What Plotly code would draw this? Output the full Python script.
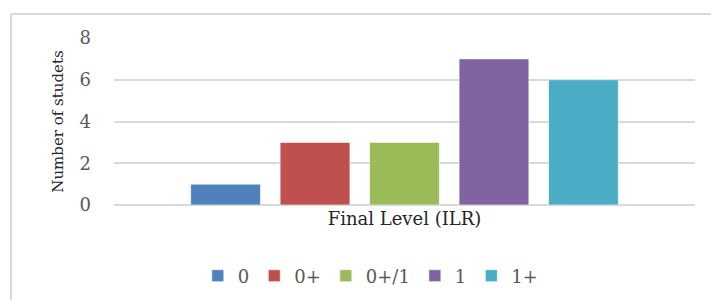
import plotly.graph_objects as go

category = ["Final Level (ILR)"]
levels = ["0", "0+", "0+/1", "1", "1+"]
students = [1, 3, 3, 7, 6]
colors = ["#4F81BD", "#C0504D", "#9BBB59", "#8064A2", "#4BACC6"]
y_ticks = [0, 2, 4, 6, 8]

fig = go.Figure()
for name, val, col in zip(levels, students, colors):
    fig.add_trace(go.Bar(
        x=category, y=[val], name=name,
        marker=dict(color=col, line=dict(color="rgba(255,255,255,0.6)", width=1)),
    ))

FONT = "DejaVu Serif"
fig.update_layout(
    width=711, height=300,
    margin=dict(l=114, r=16, t=38, b=95, autoexpand=False),
    paper_bgcolor="white", plot_bgcolor="white",
    barmode="group", bargap=0.23, bargroupgap=0.22,
    font=dict(family=FONT, color="#595959"),
    showlegend=True,
    legend=dict(orientation="h", x=0.442, xanchor="center", y=-0.425, yanchor="middle",
                font=dict(family=FONT, size=18, color="#595959"),
                itemwidth=30, tracegroupgap=0),
    xaxis=dict(showticklabels=False, showgrid=False, zeroline=False, showline=False,
               ticks="", automargin=False,
               title=dict(text="Final Level (ILR)", standoff=7,
                          font=dict(family=FONT, size=18, color="#262626"))),
    yaxis=dict(range=[0, 8], tickvals=y_ticks, showgrid=True, gridcolor="#d9d9d9",
               gridwidth=2, zeroline=True, zerolinecolor="#d9d9d9", zerolinewidth=2,
               showline=False, ticks="", ticklabelstandoff=22, automargin=False,
               tickfont=dict(family=FONT, size=18, color="#595959"),
               title=dict(text="Number of studets", standoff=12,
                          font=dict(family=FONT, size=15, color="#262626"))),
    shapes=[
        dict(type="line", xref="paper", yref="paper", x0=-0.1773, x1=1.03,
             y0=1.1437, y1=1.1437, line=dict(color="#d9d9d9", width=2)),
        dict(type="line", xref="paper", yref="paper", x0=-0.1773, x1=-0.1773,
             y0=1.1437, y1=-0.6, line=dict(color="#d9d9d9", width=2)),
    ],
)

fig.write_html("out.html", config={"displayModeBar": False},
               post_script="document.body.style.margin='0';")
